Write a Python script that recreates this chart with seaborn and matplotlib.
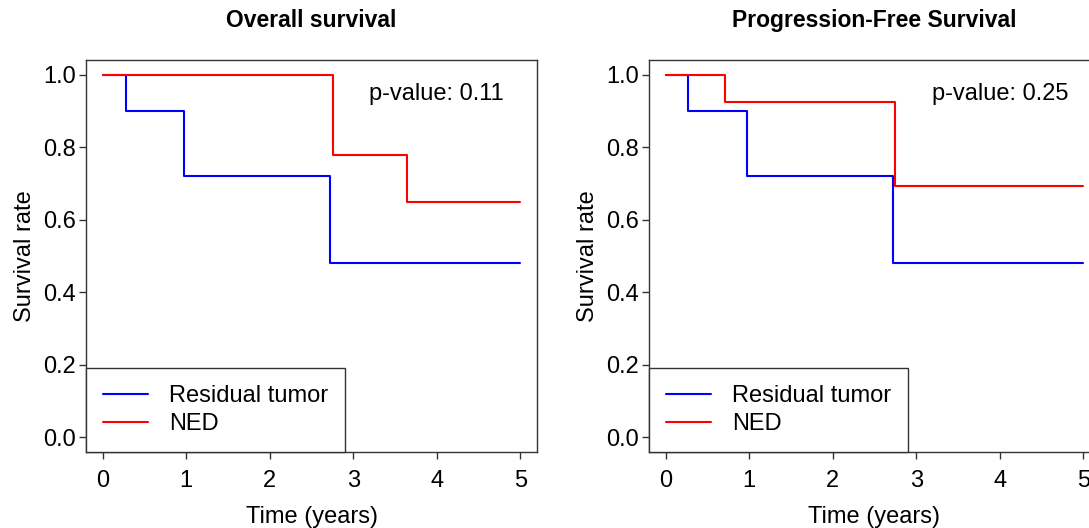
import numpy as np
import pandas as pd
import matplotlib
matplotlib.use("Agg")
import matplotlib.pyplot as plt
import seaborn as sns

# step points (time in years, survival rate)
groups = ["Residual tumor", "NED"]
os_time_resid = [0, 0.28, 0.97, 2.72, 5.0]
os_surv_resid = [1.0, 0.90, 0.72, 0.48, 0.48]
os_time_ned = [0, 2.76, 3.64, 5.0]
os_surv_ned = [1.0, 0.778, 0.648, 0.648]

pfs_time_resid = [0, 0.27, 0.97, 2.72, 5.0]
pfs_surv_resid = [1.0, 0.90, 0.72, 0.48, 0.48]
pfs_time_ned = [0, 0.71, 2.75, 5.0]
pfs_surv_ned = [1.0, 0.923, 0.692, 0.692]

titles = ["Overall survival", "Progression-Free Survival"]
pvalues = ["p-value: 0.11", "p-value: 0.25"]
xticks = [0, 1, 2, 3, 4, 5]
yticks = [0.0, 0.2, 0.4, 0.6, 0.8, 1.0]

sns.set_style("ticks")
plt.rcParams["font.family"] = ["Liberation Sans", "DejaVu Sans"]
plt.rcParams["axes.edgecolor"] = "#333333"
plt.rcParams["axes.linewidth"] = 1.0
plt.rcParams["text.color"] = "black"
plt.rcParams["axes.labelcolor"] = "black"
plt.rcParams["xtick.labelcolor"] = "black"
plt.rcParams["ytick.labelcolor"] = "black"

def make_df(tr, sr, tn, sn):
    df1 = pd.DataFrame({"time": tr, "surv": sr, "group": groups[0]})
    df2 = pd.DataFrame({"time": tn, "surv": sn, "group": groups[1]})
    return pd.concat([df1, df2], ignore_index=True)

data = [make_df(os_time_resid, os_surv_resid, os_time_ned, os_surv_ned),
        make_df(pfs_time_resid, pfs_surv_resid, pfs_time_ned, pfs_surv_ned)]

fig = plt.figure(figsize=(10.89, 5.28), dpi=100)
positions = [[86/1089, 1-452/528, 451/1089, 392/528],
             [649/1089, 1-452/528, 451/1089, 392/528]]

fs = 17
for i in range(2):
    ax = fig.add_axes(positions[i])
    sns.lineplot(data=data[i], x="time", y="surv", hue="group", hue_order=groups,
                 palette={"Residual tumor": "#0000ff", "NED": "#ff0000"},
                 drawstyle="steps-post", estimator=None, sort=False,
                 linewidth=1.5, ax=ax)
    ax.set_xlim(-0.2, 5.2)
    ax.set_ylim(-0.04, 1.04)
    ax.set_xticks(xticks)
    ax.set_yticks(yticks)
    ax.set_xticklabels([str(t) for t in xticks])
    ax.set_yticklabels([f"{t:.1f}" for t in yticks])
    ax.tick_params(axis="both", labelsize=fs, length=5, width=1, color="#333333")
    ax.tick_params(axis="x", pad=8)
    ax.tick_params(axis="y", pad=2)
    for s in ax.spines.values():
        s.set_visible(True)
    ax.set_xlabel("Time (years)", fontsize=fs, labelpad=10)
    ax.set_ylabel("Survival rate", fontsize=fs, labelpad=5)
    ax.set_title(titles[i], fontsize=16.5, fontweight="bold", pad=24)
    ax.text(4.0, 0.945, pvalues[i], fontsize=fs, ha="center", va="center")
    leg = ax.legend(loc="lower left", bbox_to_anchor=(0, 0), borderaxespad=0,
                    fontsize=fs, frameon=True, fancybox=False, handlelength=1.9,
                    handletextpad=0.9, borderpad=0.72, labelspacing=0.25)
    leg.get_frame().set_edgecolor("#333333")
    leg.get_frame().set_linewidth(1.0)
    leg.get_frame().set_alpha(1)

fig.savefig("out.png", dpi=100)
